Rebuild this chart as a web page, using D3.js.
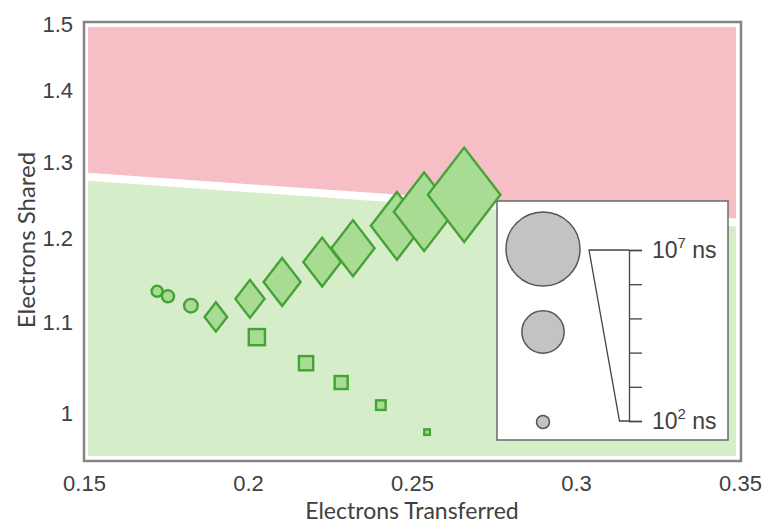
<!DOCTYPE html>
<html>
<head>
<meta charset="utf-8">
<script src="https://cdn.jsdelivr.net/npm/d3@7.9.0/dist/d3.min.js"></script>
<style>
  body { margin: 0; background: #fff; }
  svg text { font-family: "Liberation Sans", Arial, sans-serif; fill: #404040; }
  .title { font-family: Lato, "Open Sans", sans-serif; }
</style>
</head>
<body>
<div id="chart"></div>
<script>
// axis ticks
const xTicks = [0.15, 0.2, 0.25, 0.3, 0.35];
const yTicks = [1, 1.1, 1.2, 1.3, 1.4, 1.5];

// series: x = electrons transferred, y = electrons shared, t = log10(time / ns)
const circleX = [0.1723, 0.1756, 0.1826];
const circleY = [1.134, 1.128, 1.117];
const circleT = [1.84, 1.93, 2.05];

const diamondX = [0.1902, 0.2006, 0.2104, 0.2226, 0.2320, 0.2454, 0.2537, 0.2659];
const diamondY = [1.104, 1.125, 1.145, 1.169, 1.186, 1.214, 1.232, 1.254];
const diamondT = [2.79, 3.33, 3.97, 4.02, 4.48, 5.21, 5.90, 6.88];

const squareX = [0.2027, 0.2177, 0.2284, 0.2405, 0.2546];
const squareY = [1.081, 1.052, 1.031, 1.007, 0.979];
const squareT = [2.26, 2.10, 2.00, 1.72, 1.39];

// dividing line between the two regions
const boundaryX = [0.15, 0.35];
const boundaryY = [1.278, 1.218];

// size legend
const legendT = [7, 4.4, 2];
const legendTicks = [2, 3, 4, 5, 6, 7];

const width = 767, height = 526;
const plot = { left: 84, right: 740, top: 23, bottom: 461 };

const svg = d3.select('#chart').append('svg')
  .attr('width', width).attr('height', height);

const x = d3.scaleLinear().domain([0.15, 0.35]).range([plot.left, plot.right]);
const y = d3.scaleLog().domain([0.95, 1.5]).range([plot.bottom, plot.top]);
const r = d3.scaleLinear().domain([2, 7]).range([6.5, 37]);

const pink = '#f6bfc6', green = '#d6edca';
const markFill = '#a9dc93', markStroke = '#45a237';

// background regions, inset from the frame
const inset = { x0: plot.left + 4, x1: plot.right - 4, y0: plot.top + 4, y1: plot.bottom - 5 };
svg.append('clipPath').attr('id', 'inner')
  .append('rect')
  .attr('x', inset.x0).attr('y', inset.y0)
  .attr('width', inset.x1 - inset.x0).attr('height', inset.y1 - inset.y0);

const bg = svg.append('g').attr('clip-path', 'url(#inner)');
const bx0 = x(boundaryX[0]), bx1 = x(boundaryX[1]);
const by0 = y(boundaryY[0]), by1 = y(boundaryY[1]);
const gap = 4;

bg.append('path')
  .attr('d', `M${bx0},${plot.top}L${bx1},${plot.top}L${bx1},${by1 - gap}L${bx0},${by0 - gap}Z`)
  .attr('fill', pink);
bg.append('path')
  .attr('d', `M${bx0},${by0 + gap}L${bx1},${by1 + gap}L${bx1},${plot.bottom}L${bx0},${plot.bottom}Z`)
  .attr('fill', green);

// frame
svg.append('rect')
  .attr('x', plot.left).attr('y', plot.top - 1)
  .attr('width', plot.right - plot.left + 1).attr('height', plot.bottom - plot.top + 1)
  .attr('fill', 'none').attr('stroke', '#858585').attr('stroke-width', 2.5);

// axes
const xAxis = svg.append('g')
  .attr('transform', `translate(0,${plot.bottom})`)
  .call(d3.axisBottom(x).tickValues(xTicks).tickSize(0).tickPadding(17).tickFormat(d3.format('')));
const yAxis = svg.append('g')
  .attr('transform', `translate(${plot.left},0)`)
  .call(d3.axisLeft(y).tickValues(yTicks).tickSize(0).tickPadding(11).tickFormat(d3.format('')));
[xAxis, yAxis].forEach(a => {
  a.select('.domain').remove();
  a.selectAll('text').style('font-size', '22px').attr('fill', '#404040');
});
xAxis.selectAll('text').attr('dy', '0.6em');
yAxis.selectAll('text').attr('dy', '0.4em');

svg.append('text').attr('class', 'title')
  .attr('x', (plot.left + plot.right) / 2).attr('y', 519)
  .attr('text-anchor', 'middle').style('font-size', '23px')
  .text('Electrons Transferred');
svg.append('text').attr('class', 'title')
  .attr('transform', `translate(35,${240}) rotate(-90)`)
  .attr('text-anchor', 'middle').style('font-size', '24px')
  .text('Electrons Shared');

// legend
const lg = svg.append('g');
lg.append('rect')
  .attr('x', 497).attr('y', 201).attr('width', 231).attr('height', 239)
  .attr('fill', '#fff').attr('stroke', '#6a6a6a').attr('stroke-width', 1.5);

const legendCy = [249, 332, 422];
lg.selectAll('circle')
  .data(legendT)
  .join('circle')
    .attr('cx', 543)
    .attr('cy', (d, i) => legendCy[i])
    .attr('r', d => r(d))
    .attr('fill', '#c3c3c3').attr('stroke', '#555').attr('stroke-width', 1.5);

const ly = d3.scaleLinear().domain([2, 7]).range([421, 250]);
const axisX = 629;
lg.append('path')
  .attr('d', `M${axisX},${ly(7)}H${axisX - r(7) - 3}L${axisX - r(2) - 3},${ly(2)}H${axisX}`)
  .attr('fill', 'none').attr('stroke', '#444').attr('stroke-width', 1.3);
lg.append('g')
  .attr('transform', `translate(${axisX},0)`)
  .call(d3.axisRight(ly).tickValues(legendTicks).tickSize(13).tickFormat(''))
  .call(g => g.selectAll('path, line').attr('stroke', '#444').attr('stroke-width', 1.3));

[7, 2].forEach(e => {
  const t = lg.append('text')
    .attr('x', 652).attr('y', ly(e) + 8)
    .style('font-size', '23px');
  t.append('tspan').text('10');
  t.append('tspan').attr('dy', -10).style('font-size', '15px').text(e);
  t.append('tspan').attr('dy', 10).text(' ns');
});

// markers
const marks = svg.append('g')
  .attr('fill', markFill).attr('stroke', markStroke).attr('stroke-width', 2.4)
  .attr('stroke-linejoin', 'miter');

marks.append('g').selectAll('circle')
  .data(d3.range(circleX.length))
  .join('circle')
    .attr('cx', i => x(circleX[i]))
    .attr('cy', i => y(circleY[i]))
    .attr('r', i => r(circleT[i]));

marks.append('g').selectAll('rect')
  .data(d3.range(squareX.length))
  .join('rect')
    .attr('x', i => x(squareX[i]) - r(squareT[i]))
    .attr('y', i => y(squareY[i]) - r(squareT[i]))
    .attr('width', i => 2 * r(squareT[i]))
    .attr('height', i => 2 * r(squareT[i]));

marks.append('g').selectAll('path')
  .data(d3.range(diamondX.length))
  .join('path')
    .attr('d', i => {
      const cx = x(diamondX[i]), cy = y(diamondY[i]);
      const w = r(diamondT[i]), h = w * 1.3;
      return `M${cx},${cy - h}L${cx + w},${cy}L${cx},${cy + h}L${cx - w},${cy}Z`;
    });
</script>
</body>
</html>
